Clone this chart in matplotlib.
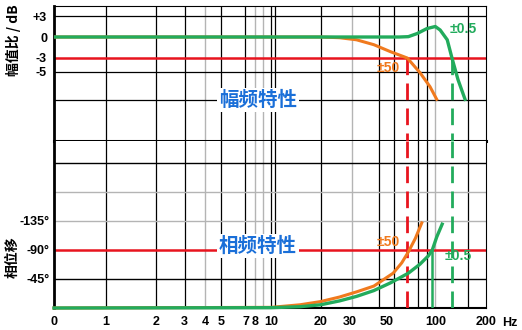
import matplotlib
matplotlib.use("Agg")
import matplotlib.pyplot as plt

# frequency axis (Hz)
xtick_vals = [0, 1, 2, 3, 4, 5, 7, 8, 10, 20, 30, 50, 100, 200]
grid_black_f = [1, 2, 3, 5, 7, 10, 10.5, 20, 45, 56, 78, 88, 157]
grid_gray_f = [4, 8, 9, 31, 99]

# amplitude response (dB)
amp_f_orange = [0, 10, 20, 26, 33, 42, 53, 67, 80, 92, 101]
amp_db_orange = [0, 0, 0, -0.1, -0.4, -1.1, -2.1, -3.0, -5.1, -7.1, -8.9]
amp_f_green = [0, 10, 30, 60, 68, 77, 88, 99, 106, 117, 125, 136, 150]
amp_db_green = [0, 0, 0, 0, 0.05, 0.5, 1.2, 1.5, 1.0, -0.4, -3.0, -6.1, -8.9]

# phase response (degrees)
ph_f_orange = [0, 10, 15, 20, 26, 33, 42, 55, 62, 68, 75, 82]
ph_deg_orange = [0, -1, -5, -10, -17, -25, -34, -54, -70, -87, -108, -132]
ph_f_green = [0, 10, 15, 20, 26, 33, 42, 53, 68, 80, 90, 95, 101, 109]
ph_deg_green = [0, -0.5, -2, -5, -11, -18, -27, -39, -54, -68, -81, -90, -110, -130]

# cut-off markers
cut_f_orange = 67
cut_f_green = 125
ph90_f_green = 95

amp_yticks = [3, 0, -3, -5]
amp_ylabels = ['+3', '0', '-3', '-5']
ph_yticks = [-45, -90, -135]
ph_ylabels = ['-45°', '-90°', '-135°']

GREEN = '#22ab5c'
ORANGE = '#f07a1e'
RED = '#e8141e'
BLUE = '#1a6fd8'
GRAY = '#b4b4b4'
CJK = ['Noto Sans CJK SC', 'DejaVu Sans']
NUM = ['Liberation Sans', 'DejaVu Sans']

fig = plt.figure(figsize=(5.22, 3.30), dpi=100)
W, H = 522, 330
left, right = 54 / W, 486 / W
ax_amp = fig.add_axes([left, 1 - 141 / H, right - left, 135 / H])
ax_ph = fig.add_axes([left, 1 - 308 / H, right - left, 167 / H])

for ax in (ax_amp, ax_ph):
    ax.set_xscale('symlog', linthresh=1, linscale=0.284)
    ax.set_xlim(0, 201)
    for f in grid_gray_f:
        ax.axvline(f, color=GRAY, lw=1, zorder=1)
    for f in grid_black_f:
        ax.axvline(f, color='black', lw=0.9, zorder=1)
    ax.tick_params(length=0)
    for s in ax.spines.values():
        s.set_color('black')
    ax.spines['left'].set_linewidth(2)

ax_amp.set_ylim(-14.86, 4.43)
ax_ph.set_ylim(0, -259)

# horizontal grid
for v in [3, -5, -9]:
    ax_amp.axhline(v, color='black', lw=0.9, zorder=1)
ax_amp.axhline(-3, color=RED, lw=1.8, zorder=2)
for v, c in [(-45, 'black'), (-135, GRAY), (-180, GRAY), (-225, 'black')]:
    ax_ph.axhline(v, color=c, lw=1, zorder=1)
ax_ph.axhline(-90, color=RED, lw=1.8, zorder=2)

ax_amp.spines['bottom'].set_linewidth(2.2)
ax_ph.spines['top'].set_visible(False)
ax_ph.spines['bottom'].set_linewidth(1.5)

# curves
ax_amp.plot(amp_f_orange, amp_db_orange, color=ORANGE, lw=2.2, zorder=4)
ax_amp.plot(amp_f_green, amp_db_green, color=GREEN, lw=2.4, zorder=5)
ax_ph.plot(ph_f_orange, ph_deg_orange, color=ORANGE, lw=2.2, zorder=4, clip_on=False)
ax_ph.plot(ph_f_green, ph_deg_green, color=GREEN, lw=2.4, zorder=5, clip_on=False)

# cut-off dashed lines through both panels
dash = (0, (6, 3))
ax_amp.plot([cut_f_orange, cut_f_orange], [-3, -14.86], color=RED, lw=2, ls=dash, zorder=3)
ax_ph.plot([cut_f_orange, cut_f_orange], [-259, 0], color=RED, lw=2, ls=dash, zorder=3)
ax_amp.plot([cut_f_green, cut_f_green], [-3, -14.86], color=GREEN, lw=2, ls=dash, zorder=3)
ax_ph.plot([cut_f_green, cut_f_green], [-259, 0], color=GREEN, lw=2, ls=dash, zorder=3)
ax_ph.plot([ph90_f_green, ph90_f_green], [-90, 0], color=GREEN, lw=1.8, zorder=3)

# ticks
ax_amp.set_xticks([])
ax_amp.set_yticks(amp_yticks, amp_ylabels)
ax_ph.set_yticks(ph_yticks, ph_ylabels)
ax_ph.set_xticks(xtick_vals, [str(v) for v in xtick_vals])
ax_ph.xaxis.set_minor_locator(matplotlib.ticker.NullLocator())
ax_amp.xaxis.set_minor_locator(matplotlib.ticker.NullLocator())
for lab in ax_amp.get_yticklabels() + ax_ph.get_yticklabels() + ax_ph.get_xticklabels():
    lab.set_fontfamily(NUM)
    lab.set_fontweight('bold')
    lab.set_fontsize(9)
ax_amp.tick_params(axis='y', pad=5)
ax_ph.tick_params(axis='y', pad=3)
ax_ph.tick_params(axis='x', pad=6)

fig.text(510 / W, 1 - 323 / H, 'Hz', ha='center', va='center', fontsize=9,
         fontweight='bold', family=NUM)

# annotations
ax_amp.annotate('±50', xy=(388 / W, 1 - 68 / H), xycoords='figure fraction',
                ha='center', va='center', color=ORANGE, fontsize=10, fontweight='bold', family=NUM)
ax_amp.annotate('±0.5', xy=(463 / W, 1 - 29 / H), xycoords='figure fraction',
                ha='center', va='center', color=GREEN, fontsize=10, fontweight='bold', family=NUM)
ax_ph.annotate('±50', xy=(388 / W, 1 - 242 / H), xycoords='figure fraction',
               ha='center', va='center', color=ORANGE, fontsize=10, fontweight='bold', family=NUM)
ax_ph.annotate('±0.5', xy=(458 / W, 1 - 256 / H), xycoords='figure fraction',
               ha='center', va='center', color=GREEN, fontsize=10, fontweight='bold', family=NUM)

box = dict(facecolor='white', edgecolor='none', pad=1.5)
fig.text(258 / W, 1 - 100 / H, '幅频特性', ha='center', va='center', fontsize=14,
         fontweight='bold', color=BLUE, family=CJK, bbox=box, zorder=10)
fig.text(258 / W, 1 - 246 / H, '相频特性', ha='center', va='center', fontsize=14,
         fontweight='bold', color=BLUE, family=CJK, bbox=box, zorder=10)

fig.text(13 / W, 1 - 40 / H, '幅值比 / dB', ha='center', va='center', rotation=90,
         fontsize=10, fontweight='bold', family=CJK)
fig.text(13 / W, 1 - 257 / H, '相位移', ha='center', va='center', rotation=90,
         fontsize=10, fontweight='bold', family=CJK)

fig.savefig('out.png', dpi=100)
